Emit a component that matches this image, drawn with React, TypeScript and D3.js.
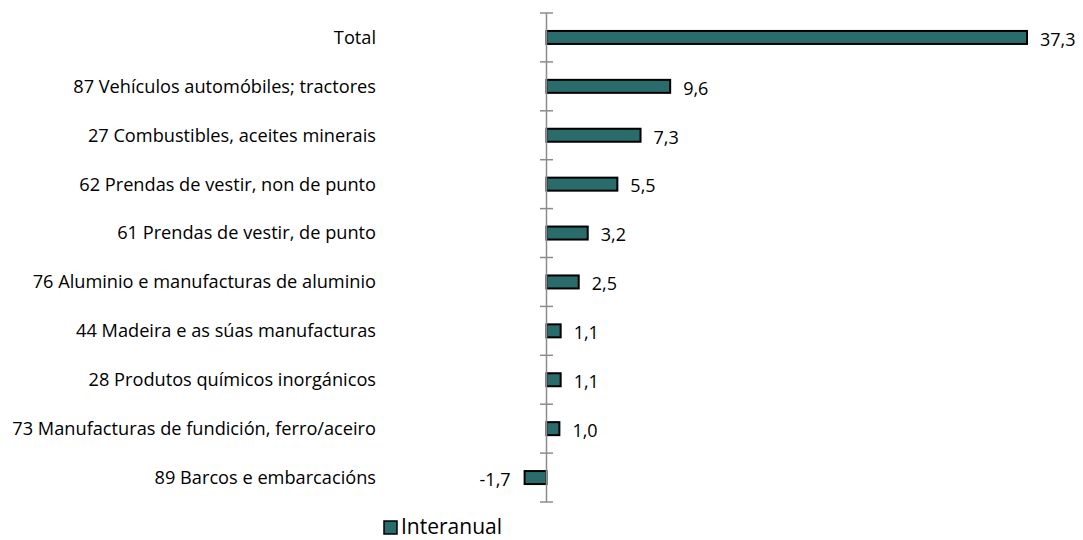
import React from "react";
import * as d3 from "d3";

const categories = [
  "Total",
  "87 Vehículos automóbiles; tractores",
  "27 Combustibles, aceites minerais",
  "62 Prendas de vestir, non de punto",
  "61 Prendas de vestir, de punto",
  "76 Aluminio e manufacturas de aluminio",
  "44 Madeira e as súas manufacturas",
  "28 Produtos químicos inorgánicos",
  "73 Manufacturas de fundición, ferro/aceiro",
  "89 Barcos e embarcacións",
];
const values = [37.3, 9.6, 7.3, 5.5, 3.2, 2.5, 1.1, 1.1, 1.0, -1.7];
const seriesName = "Interanual";

const W = 1083;
const H = 540;
const FONT = "'Open Sans', sans-serif";
const FILL = "#2a6b6c";

export default function App() {
  const x = d3.scaleLinear().domain([0, 37.3]).range([546.5, 1027]);
  const y = d3.scaleBand<string>().domain(categories).range([13, 502]);
  const barH = 13;
  const fmt = (v: number) => v.toFixed(1).replace(".", ",");
  const ticks = d3.range(categories.length + 1).map((i) => 13 + i * y.step());
  return (
    <svg width={W} height={H} style={{ position: "absolute", left: 0, top: 0 }}>
      <rect width={W} height={H} fill="#fff" />
      {categories.map((c, i) => {
        const v = values[i];
        const yc = (y(c) ?? 0) + y.bandwidth() / 2;
        const x0 = x(Math.min(0, v));
        const x1 = x(Math.max(0, v));
        return (
          <g key={c}>
            <rect x={x0} y={yc - barH / 2} width={x1 - x0} height={barH} fill={FILL} stroke="#000" strokeWidth={2} />
            <text x={376} y={yc} dy="0.35em" textAnchor="end" fontFamily={FONT} fontSize={18.2} fill="#000">
              {c}
            </text>
            <text
              x={v >= 0 ? x1 + 13 : x0 - 14}
              y={yc + 2}
              dy="0.35em"
              textAnchor={v >= 0 ? "start" : "end"}
              fontFamily={FONT}
              fontSize={18}
              fill="#000"
            >
              {fmt(v)}
            </text>
          </g>
        );
      })}
      <line x1={546.5} x2={546.5} y1={13} y2={502} stroke="#8c8c8c" strokeWidth={1.5} />
      {ticks.map((t, i) => (
        <line key={i} x1={540} x2={553} y1={t} y2={t} stroke="#8c8c8c" strokeWidth={1.5} />
      ))}
      <rect x={384} y={521} width={13} height={13} fill={FILL} stroke="#000" strokeWidth={1.5} />
      <text x={401} y={534} fontFamily={FONT} fontSize={21} fill="#000">
        {seriesName}
      </text>
    </svg>
  );
}
